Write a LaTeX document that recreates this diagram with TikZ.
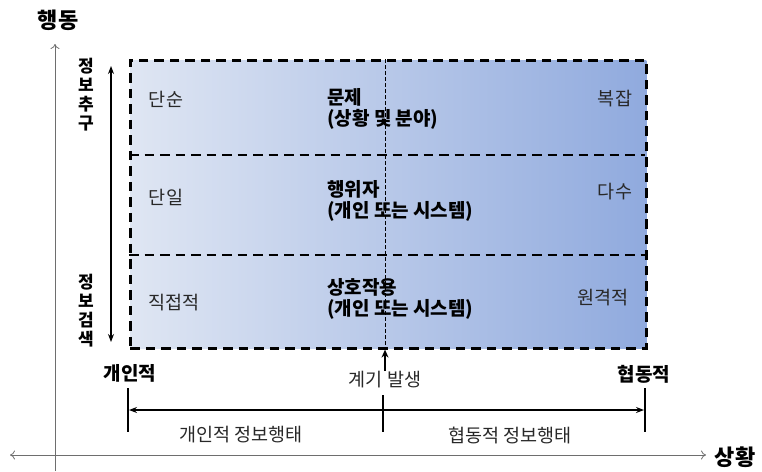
\documentclass[tikz,border=0pt]{standalone}
\usepackage{fontspec}
\setmainfont{Noto Sans CJK KR}
\usetikzlibrary{arrows.meta}
\definecolor{gleft}{RGB}{223,230,243}
\definecolor{gright}{RGB}{144,170,222}
\definecolor{txt}{RGB}{40,40,40}
\definecolor{axisgray}{RGB}{110,110,110}
\tikzset{
  lbl/.style={font=\fontsize{18.5}{21}\selectfont, text=txt, inner sep=0pt},
  blbl/.style={font=\fontsize{19}{21}\selectfont\bfseries, text=black, inner sep=0pt, align=left},
  axlbl/.style={font=\fontsize{22}{24}\selectfont\bfseries, inner sep=0pt},
  vlbl/.style={font=\fontsize{17}{19}\selectfont\bfseries, inner sep=0pt, align=center},
  dashbox/.style={line width=2.6pt, dash pattern=on 9.5pt off 6pt},
  axisline/.style={draw=axisgray, line width=0.8pt},
  tick/.style={line width=1.2pt},
}
\begin{document}
\begin{tikzpicture}[x=1pt,y=-1pt]
\useasboundingbox (0,0) rectangle (762,471);
% shaded box
\node[dashbox, draw, left color=gleft, right color=gright, minimum width=516pt, minimum height=288pt, inner sep=0pt, anchor=north west] (box) at (129,59) {};
\coordinate (d1l) at (129,155); \coordinate (d1r) at (645,155);
\coordinate (d2l) at (129,255); \coordinate (d2r) at (645,255);
\draw[dashbox] (d1l) -- (d1r);
\draw[dashbox] (d2l) -- (d2r);
\coordinate (ct) at (385,59); \coordinate (cb) at (385,347);
\draw[line width=0.8pt, dash pattern=on 4pt off 2pt] (ct) -- (cb);
% axes
\coordinate (vbot) at (55,471); \coordinate (vtop) at (55,44);
\draw[axisline, -{To[length=5pt,width=9pt]}] (vbot) -- (vtop);
\coordinate (hl) at (10,455); \coordinate (hr) at (706,455);
\draw[axisline, {To[length=5pt,width=9pt]}-{To[length=5pt,width=9pt]}] (hl) -- (hr);
\node[axlbl] (ylab) at (58,20) {행동};
\node[axlbl] (xlab) at (735,457) {상황};
% left arrow
\coordinate (la) at (111,66); \coordinate (lb) at (111,342);
\draw[line width=1.2pt, {Stealth[length=8pt,width=6pt]}-{Stealth[length=8pt,width=6pt]}] (la) -- (lb);
\node[vlbl, anchor=north] (s1) at (86,58) {정\\보\\추\\구};
\node[vlbl, anchor=north] (s2) at (86,274) {정\\보\\검\\색};
% texts in box
\node[lbl] (t11) at (166,99) {단순};
\node[blbl, anchor=north west] (t12) at (327,88) {문제\\(상황 및 분야)};
\node[lbl] (t13) at (615,99) {복잡};
\node[lbl] (t21) at (166,197) {단일};
\node[blbl, anchor=north west] (t22) at (327,180) {행위자\\(개인 또는 시스템)};
\node[lbl] (t23) at (615,192) {다수};
\node[lbl] (t31) at (174,303) {직접적};
\node[blbl, anchor=north west] (t32) at (327,278) {상호작용\\(개인 또는 시스템)};
\node[lbl] (t33) at (603,298) {원격적};
% bottom
\node[blbl] (pl) at (130,373) {개인적};
\node[blbl] (pr) at (644,374) {협동적};
\node[lbl] (trig) at (385,380) {계기 발생};
\coordinate (arrb) at (385,371);
\draw[line width=2pt, -{Stealth[length=8pt,width=7pt]}] (arrb) -- (box.south -| arrb);
\coordinate (tk1a) at (128,388); \coordinate (tk1b) at (128,432);
\coordinate (tk2a) at (383,395); \coordinate (tk2b) at (383,432);
\coordinate (tk3a) at (645,388); \coordinate (tk3b) at (645,432);
\draw[tick] (tk1a) -- (tk1b);
\draw[tick] (tk2a) -- (tk2b);
\draw[tick] (tk3a) -- (tk3b);
\coordinate (ba) at (129,410); \coordinate (bb) at (644,410);
\draw[line width=1.2pt, {Stealth[length=8pt,width=6pt]}-{Stealth[length=8pt,width=6pt]}] (ba) -- (bb);
\node[lbl] (bl) at (241,435) {개인적 정보행태};
\node[lbl] (br) at (510,435) {협동적 정보행태};
\end{tikzpicture}
\end{document}
